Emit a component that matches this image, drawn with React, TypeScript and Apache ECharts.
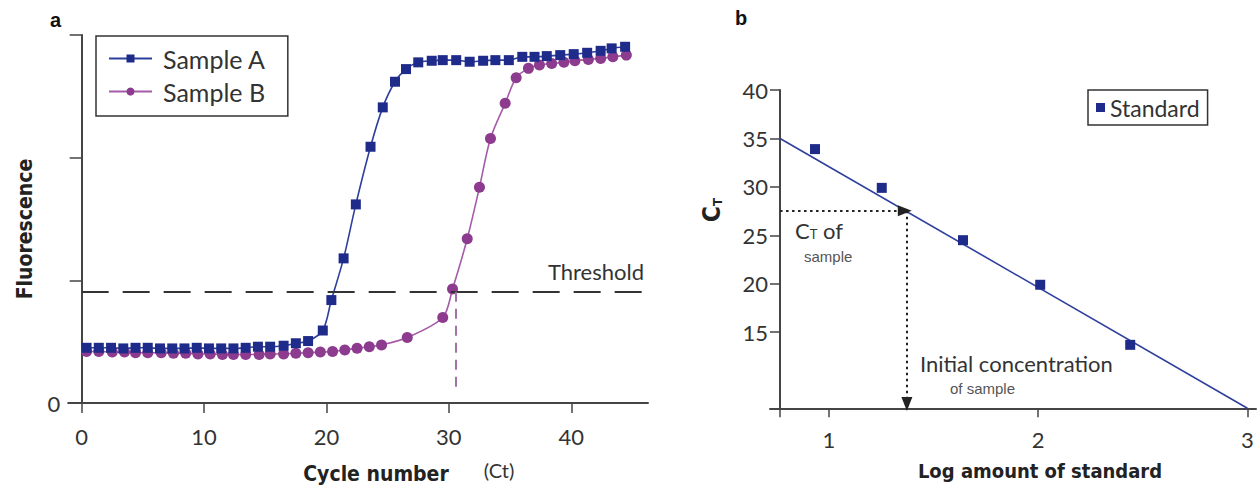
import React, { useEffect, useRef } from "react";
import * as echarts from "echarts";

// ---- Panel a: amplification curves ----
const cyclesA = [0.4, 1.4, 2.4, 3.4, 4.4, 5.4, 6.4, 7.4, 8.4, 9.4, 10.4, 11.4, 12.4, 13.4, 14.4, 15.4, 16.5, 17.5, 18.5, 19.7, 20.4, 21.4, 22.4, 23.6, 24.6, 25.6, 26.5, 27.5, 28.6, 29.5, 30.6, 31.7, 32.8, 33.8, 34.9, 36.0, 37.0, 38.0, 39.1, 40.2, 41.3, 42.4, 43.3, 44.4];
const fluorA = [0.45, 0.45, 0.45, 0.445, 0.45, 0.45, 0.445, 0.445, 0.445, 0.45, 0.445, 0.445, 0.445, 0.45, 0.459, 0.459, 0.467, 0.487, 0.505, 0.591, 0.839, 1.179, 1.619, 2.089, 2.41, 2.619, 2.722, 2.777, 2.79, 2.795, 2.795, 2.782, 2.79, 2.795, 2.795, 2.822, 2.822, 2.828, 2.836, 2.844, 2.855, 2.871, 2.891, 2.904];
const cyclesB = [0.4, 1.4, 2.5, 3.5, 4.4, 5.4, 6.5, 7.5, 8.5, 9.5, 10.5, 11.5, 12.4, 13.4, 14.5, 15.4, 16.5, 17.5, 18.5, 19.5, 20.5, 21.5, 22.5, 23.5, 24.5, 26.6, 29.5, 30.3, 31.5, 32.5, 33.4, 34.6, 35.5, 36.5, 37.4, 38.4, 39.4, 40.3, 41.4, 42.4, 43.4, 44.5];
const fluorB = [0.42, 0.42, 0.415, 0.415, 0.41, 0.41, 0.41, 0.405, 0.405, 0.4, 0.4, 0.395, 0.395, 0.395, 0.395, 0.4, 0.4, 0.405, 0.41, 0.415, 0.42, 0.432, 0.446, 0.459, 0.473, 0.534, 0.697, 0.929, 1.339, 1.758, 2.157, 2.443, 2.651, 2.728, 2.755, 2.768, 2.777, 2.79, 2.801, 2.809, 2.822, 2.836];
const threshold = 0.907;
const ctSampleB = 30.6;
const cycleTicks = [0, 10, 20, 30, 40];

// ---- Panel b: standard curve ----
const logStd = [0.934, 1.253, 1.641, 2.01, 2.44];
const ctStd = [33.9, 29.9, 24.5, 19.9, 13.7];
const fitLog = [0.767, 3.0];
const fitCt = [35.0, 7.15];
const sampleLog = 1.373;
const sampleCt = 27.55;
const logTicks = [1, 2, 3];
const ctTicks = [15, 20, 25, 30, 35, 40];

const NAVY = "#1f2b8a";
const NAVY_LINE = "#2f3f9c";
const PURPLE = "#8c3b8e";
const PURPLE_LINE = "#a55ca8";
const AXIS = "#454545";
const TXT = "#333";
const REG = "Lato, 'Open Sans', sans-serif";
const BOLD = "'DejaVu Sans Condensed', 'DejaVu Sans', sans-serif";

export default function App() {
  const ref = useRef<HTMLDivElement>(null);
  useEffect(() => {
    document.body.style.margin = "0";
    const chart = echarts.init(ref.current!, undefined, { renderer: "svg" });
    const axisLine = { show: true, lineStyle: { color: AXIS, width: 2 } };
    const option: any = {
      animation: false,
      backgroundColor: "#fff",
      grid: [
        { left: 68.2, right: 609, top: 35, bottom: 84, containLabel: false, outerBoundsMode: "none" },
        { left: 770, right: 1, top: 90, bottom: 78.7, containLabel: false, outerBoundsMode: "none" },
      ],
      xAxis: [
        {
          type: "value", gridIndex: 0, min: -1.1, max: 46.27,
          axisLine: { ...axisLine, onZero: true },
          axisTick: { show: true, length: 10, lineStyle: { color: AXIS, width: 1.5 }, customValues: cycleTicks },
          axisLabel: { customValues: cycleTicks, fontSize: 22, color: TXT, fontFamily: REG, margin: 22 },
          splitLine: { show: false },
        },
        {
          type: "value", gridIndex: 1, min: 0.719, max: 3.041,
          axisLine: { ...axisLine, onZero: false },
          axisTick: { show: true, length: 9, lineStyle: { color: AXIS, width: 1.5 }, customValues: [fitLog[0], ...logTicks] },
          axisLabel: { customValues: logTicks, fontSize: 22, color: TXT, fontFamily: REG, margin: 20 },
          splitLine: { show: false },
        },
      ],
      yAxis: [
        {
          type: "value", gridIndex: 0, min: 0, max: 3, interval: 1,
          axisLine: { ...axisLine, onZero: true },
          axisTick: { show: true, length: 12, lineStyle: { color: AXIS, width: 1.5 } },
          axisLabel: { formatter: (v: number) => (v === 0 ? "0" : ""), fontSize: 22, color: TXT, fontFamily: REG, margin: 8 },
          splitLine: { show: false },
        },
        {
          type: "value", gridIndex: 1, min: 7.15, max: 40, offset: -10,
          axisLine: { ...axisLine, onZero: false },
          axisTick: { show: true, length: 10, lineStyle: { color: AXIS, width: 1.5 }, customValues: ctTicks },
          axisLabel: { customValues: ctTicks, fontSize: 22, color: TXT, fontFamily: REG, margin: 12 },
          splitLine: { show: false },
        },
      ],
      legend: [
        {
          data: ["Sample A", "Sample B"], orient: "vertical", left: 96, top: 36,
          padding: [10, 22, 12, 12], itemGap: 8, itemWidth: 43, itemHeight: 10,
          borderColor: "#333", borderWidth: 1.5, borderRadius: 0,
          textStyle: { fontSize: 25, color: "#333", fontFamily: REG, padding: [0, 0, 0, 6] },
          selectedMode: false,
        },
        {
          data: ["Standard"], left: 1088, top: 90, padding: [6, 8, 6, 8],
          itemWidth: 9, itemHeight: 9, icon: "rect",
          borderColor: "#333", borderWidth: 1.5, borderRadius: 0,
          textStyle: { fontSize: 23, color: "#333", fontFamily: REG },
          selectedMode: false,
        },
      ],
      series: [
        {
          name: "Sample A", type: "line", xAxisIndex: 0, yAxisIndex: 0,
          data: cyclesA.map((c, i) => [c, fluorA[i]]),
          symbol: "rect", symbolSize: 10, smooth: 0.3,
          itemStyle: { color: NAVY, opacity: 1 }, lineStyle: { color: NAVY_LINE, width: 1.6 }, z: 4,
          markLine: {
            silent: true, symbol: "none", label: { show: false },
            lineStyle: { color: "#333", width: 2, type: [27, 14] },
            data: [[{ coord: [0, threshold] }, { coord: [46.0, threshold] }]],
          },
        },
        {
          name: "Sample B", type: "line", xAxisIndex: 0, yAxisIndex: 0,
          data: cyclesB.map((c, i) => [c, fluorB[i]]),
          symbol: "circle", symbolSize: 11, smooth: 0.3,
          itemStyle: { color: PURPLE, opacity: 1 }, lineStyle: { color: PURPLE_LINE, width: 1.6 }, z: 3,
          markLine: {
            silent: true, symbol: "none", label: { show: false },
            lineStyle: { color: "#a074a2", width: 2, type: [10, 7] },
            data: [[{ coord: [ctSampleB, threshold] }, { coord: [ctSampleB, 0.09] }]],
          },
        },
        {
          name: "Standard", type: "scatter", xAxisIndex: 1, yAxisIndex: 1,
          data: logStd.map((l, i) => [l, ctStd[i]]),
          symbol: "rect", symbolSize: 10, itemStyle: { color: NAVY, opacity: 1 }, z: 4,
        },
        {
          name: "fit", type: "line", xAxisIndex: 1, yAxisIndex: 1,
          data: fitLog.map((l, i) => [l, fitCt[i]]),
          symbol: "none", lineStyle: { color: NAVY_LINE, width: 1.6 }, z: 3,
          markLine: {
            silent: true, symbol: ["none", "triangle"], symbolSize: [11, 14],
            label: { show: false },
            lineStyle: { color: "#222", width: 2, type: [2.5, 3.5] },
            itemStyle: { color: "#111" },
            data: [
              [{ coord: [fitLog[0], sampleCt] }, { coord: [sampleLog - 0.01, sampleCt] }],
              [{ coord: [sampleLog, sampleCt] }, { coord: [sampleLog, 7.6] }],
            ],
          },
        },
      ],
      graphic: [
        { type: "text", left: 50, top: 10, style: { text: "a", font: "bold 20px 'Liberation Sans', Arial", fill: "#111" } },
        { type: "text", left: 735, top: 8, style: { text: "b", font: "bold 20px 'Liberation Sans', Arial", fill: "#111" } },
        {
          type: "text", x: 25, y: 229, rotation: Math.PI / 2,
          style: { text: "Fluorescence", font: `bold 21px ${BOLD}`, fill: "#222", align: "center", verticalAlign: "middle" },
        },
        { type: "text", x: 376, y: 474, style: { text: "Cycle number", font: `bold 21px ${BOLD}`, lineHeight: 21, fill: "#222", align: "center", verticalAlign: "middle" } },
        { type: "text", x: 499, y: 470, style: { text: "(Ct)", font: `20px ${REG}`, fill: "#333", align: "center", verticalAlign: "middle" } },
        { type: "text", x: 596, y: 271, style: { text: "Threshold", font: `22px ${REG}`, fill: "#333", align: "center", verticalAlign: "middle" } },
        {
          type: "text", x: 712, y: 210, rotation: Math.PI / 2,
          style: {
            text: "{c|C}{t|T}", align: "center", verticalAlign: "middle",
            rich: {
              c: { font: `bold 24px ${BOLD}`, fill: "#222" },
              t: { font: `bold 13px ${BOLD}`, fill: "#222", padding: [10, 0, 0, 0] },
            },
          },
        },
        { type: "text", x: 1040, y: 471, style: { text: "Log amount of standard", font: `bold 20px ${BOLD}`, fill: "#222", align: "center", verticalAlign: "middle" } },
        {
          type: "text", x: 795, y: 230,
          style: {
            text: "{c|C}{t|T}{c| of}", verticalAlign: "middle",
            rich: {
              c: { font: `22px ${REG}`, fill: "#333" },
              t: { font: `13px ${REG}`, fill: "#333", padding: [8, 0, 0, 0] },
            },
          },
        },
        { type: "text", x: 804, y: 256, style: { text: "sample", font: `15px 'Liberation Sans', Arial`, fill: "#555", verticalAlign: "middle" } },
        { type: "text", x: 920, y: 363, style: { text: "Initial concentration", font: `22px ${REG}`, fill: "#333", verticalAlign: "middle" } },
        { type: "text", x: 950, y: 388, style: { text: "of sample", font: `15px 'Liberation Sans', Arial`, fill: "#555", verticalAlign: "middle" } },
      ],
    };
    chart.setOption(option);
    return () => chart.dispose();
  }, []);
  return <div ref={ref} style={{ width: 1257, height: 487 }} />;
}
